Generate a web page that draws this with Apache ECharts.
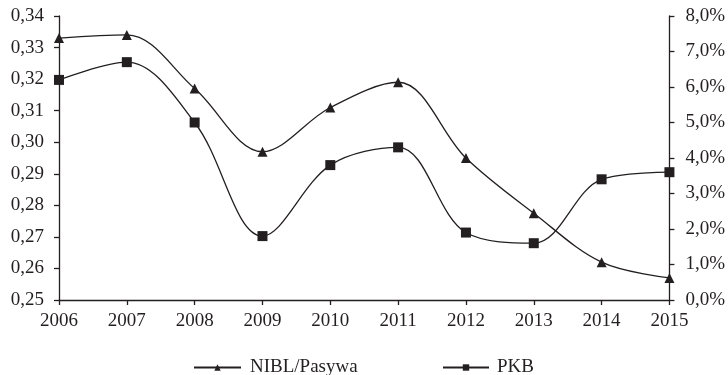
<!DOCTYPE html>
<html>
<head>
<meta charset="utf-8">
<script src="https://cdn.jsdelivr.net/npm/echarts@6/dist/echarts.min.js"></script>
<style>
  html, body { margin: 0; padding: 0; background: #fff; }
  #chart { width: 728px; height: 375px; }
</style>
</head>
<body>
<div id="chart"></div>
<script>
// Years on the category axis
const years = ['2006', '2007', '2008', '2009', '2010', '2011', '2012', '2013', '2014', '2015'];
// NIBL to total liabilities ratio (left axis)
const niblPasywa = [0.333, 0.334, 0.317, 0.297, 0.311, 0.319, 0.295, 0.2775, 0.262, 0.257];
// GDP growth, percent (right axis)
const pkb = [6.2, 6.7, 5.0, 1.8, 3.8, 4.3, 1.9, 1.6, 3.4, 3.6];

const FONT = 'Liberation Serif';
const INK = '#231f20';
const FS = 19;

const chart = echarts.init(document.getElementById('chart'));

const axisCommon = {
  axisLine: { show: true, lineStyle: { color: INK, width: 1.3 } },
  axisTick: { show: true, length: 5, lineStyle: { color: INK, width: 1.3 } },
  splitLine: { show: false }
};

chart.setOption({
  animation: false,
  backgroundColor: '#fff',
  grid: { left: 59, right: 58, top: 16, bottom: 75, containLabel: false },
  legend: [
    {
      left: 188, top: 353,
      data: ['NIBL/Pasywa'],
      itemWidth: 47, itemHeight: 8,
      textStyle: { fontFamily: FONT, fontSize: FS, color: INK, padding: [0, 0, 0, 4] }
    },
    {
      left: 437, top: 353,
      data: ['PKB'],
      itemWidth: 46, itemHeight: 8,
      textStyle: { fontFamily: FONT, fontSize: FS, color: INK, padding: [0, 0, 0, 3] }
    }
  ],
  xAxis: Object.assign({}, axisCommon, {
    type: 'category',
    data: years,
    boundaryGap: false,
    axisTick: { show: true, alignWithLabel: true, length: 5, lineStyle: { color: INK, width: 1.3 } },
    axisLabel: { fontFamily: FONT, fontSize: FS, color: INK, margin: 12 }
  }),
  yAxis: [
    Object.assign({}, axisCommon, {
      type: 'value',
      min: 0.25, max: 0.34, interval: 0.01,
      axisLabel: {
        fontFamily: FONT, fontSize: FS, color: INK, margin: 15,
        formatter: v => v.toFixed(2).replace('.', ',')
      }
    }),
    Object.assign({}, axisCommon, {
      type: 'value',
      position: 'right',
      min: 0, max: 8, interval: 1,
      axisLabel: {
        fontFamily: FONT, fontSize: FS, color: INK, margin: 16,
        formatter: v => v.toFixed(1).replace('.', ',') + '%'
      }
    })
  ],
  series: [
    {
      name: 'NIBL/Pasywa',
      type: 'line',
      yAxisIndex: 0,
      data: niblPasywa,
      smooth: 0.35,
      symbol: 'triangle',
      symbolSize: 10,
      lineStyle: { color: INK, width: 1.3 },
      itemStyle: { color: INK, borderWidth: 0 }
    },
    {
      name: 'PKB',
      type: 'line',
      yAxisIndex: 1,
      data: pkb,
      smooth: 0.35,
      symbol: 'rect',
      symbolSize: 10,
      lineStyle: { color: INK, width: 1.3 },
      itemStyle: { color: INK, borderWidth: 0 }
    }
  ]
});
</script>
</body>
</html>
